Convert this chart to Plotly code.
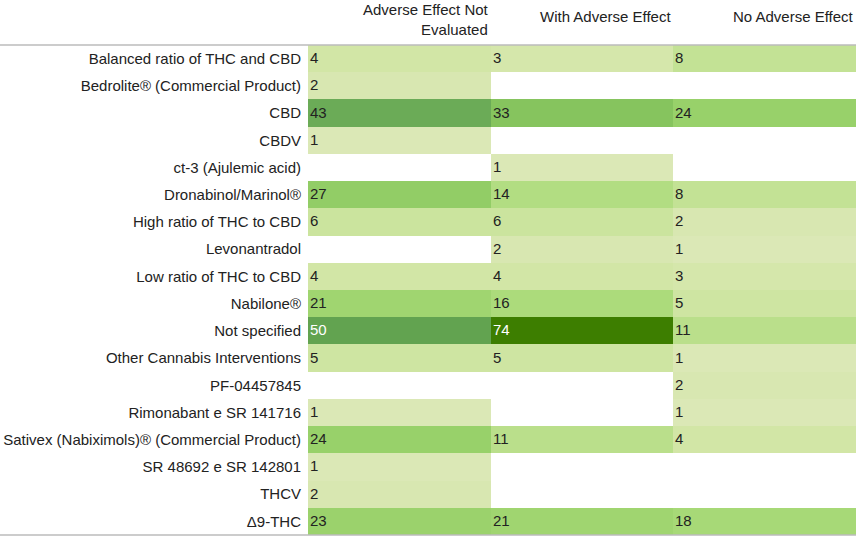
import plotly.graph_objects as go

# data
interventions = [
    "Balanced ratio of THC and CBD",
    "Bedrolite® (Commercial Product)",
    "CBD",
    "CBDV",
    "ct-3 (Ajulemic acid)",
    "Dronabinol/Marinol®",
    "High ratio of THC to CBD",
    "Levonantradol",
    "Low ratio of THC to CBD",
    "Nabilone®",
    "Not specified",
    "Other Cannabis Interventions",
    "PF-04457845",
    "Rimonabant e SR 141716",
    "Sativex (Nabiximols)® (Commercial Product)",
    "SR 48692 e SR 142801",
    "THCV",
    "Δ9-THC",
]
columns = ["Adverse Effect Not Evaluated", "With Adverse Effect", "No Adverse Effect"]
column_labels = ["Adverse Effect Not<br>Evaluated", "With Adverse Effect", "No Adverse Effect"]

not_evaluated = [4, 2, 43, 1, None, 27, 6, None, 4, 21, 50, 5, None, 1, 24, 1, 2, 23]
with_adverse = [3, None, 33, None, 1, 14, 6, 2, 4, 16, 74, 5, None, None, 11, None, None, 21]
no_adverse = [8, None, 24, None, None, 8, 2, 1, 3, 5, 11, 1, 2, 1, 4, None, None, 18]

z = [list(r) for r in zip(not_evaluated, with_adverse, no_adverse)]

# colour ramp (value -> colour)
vmin, vmax = 1, 74
ramp = [(1, "#dbe8b6"), (4, "#d2e6a6"), (8, "#c3e295"), (16, "#acdb7b"),
        (24, "#98d16a"), (33, "#86c45e"), (43, "#6bab57"), (50, "#62a350"),
        (74, "#3d7e00")]
colorscale = [[(v - vmin) / (vmax - vmin), c] for v, c in ramp]

fig = go.Figure(go.Heatmap(
    z=z, x=columns, y=interventions,
    zmin=vmin, zmax=vmax, colorscale=colorscale,
    showscale=False, hoverongaps=False,
))

# cell numbers, left aligned in each cell
for i, name in enumerate(interventions):
    for j, col in enumerate(columns):
        v = z[i][j]
        if v is None:
            continue
        fig.add_annotation(
            x=j - 0.5, y=name, text=str(v), showarrow=False,
            xanchor="left", xshift=0, yshift=1,
            font=dict(size=15, color="white" if v >= 50 else "#222222"),
        )

# column headers
for j, lab in enumerate(column_labels):
    fig.add_annotation(
        x=j + 0.5, y=1, yref="paper", text=lab, showarrow=False,
        xanchor="right", yanchor="middle", align="right",
        yshift=26 if "<br>" in lab else 29,
        font=dict(size=15, color="#222222"),
    )

# top and bottom rules
for yy in (1, 0):
    fig.add_shape(type="line", xref="paper", yref="paper",
                  x0=-308 / 548, x1=1, y0=yy, y1=yy,
                  line=dict(color="#bbbbbb", width=1.5))

fig.update_layout(
    width=858, height=538,
    margin=dict(l=308, r=2, t=45, b=3),
    paper_bgcolor="white", plot_bgcolor="white",
    font=dict(family="Liberation Sans, Arial, sans-serif", size=15, color="#222222"),
    xaxis=dict(showticklabels=False, showgrid=False, zeroline=False, fixedrange=True),
    yaxis=dict(autorange="reversed", showgrid=False, zeroline=False,
               ticks="", ticklabelstandoff=6, fixedrange=True),
)

fig.write_html("out.html", config={"displayModeBar": False},
               post_script="document.body.style.margin='0';")
